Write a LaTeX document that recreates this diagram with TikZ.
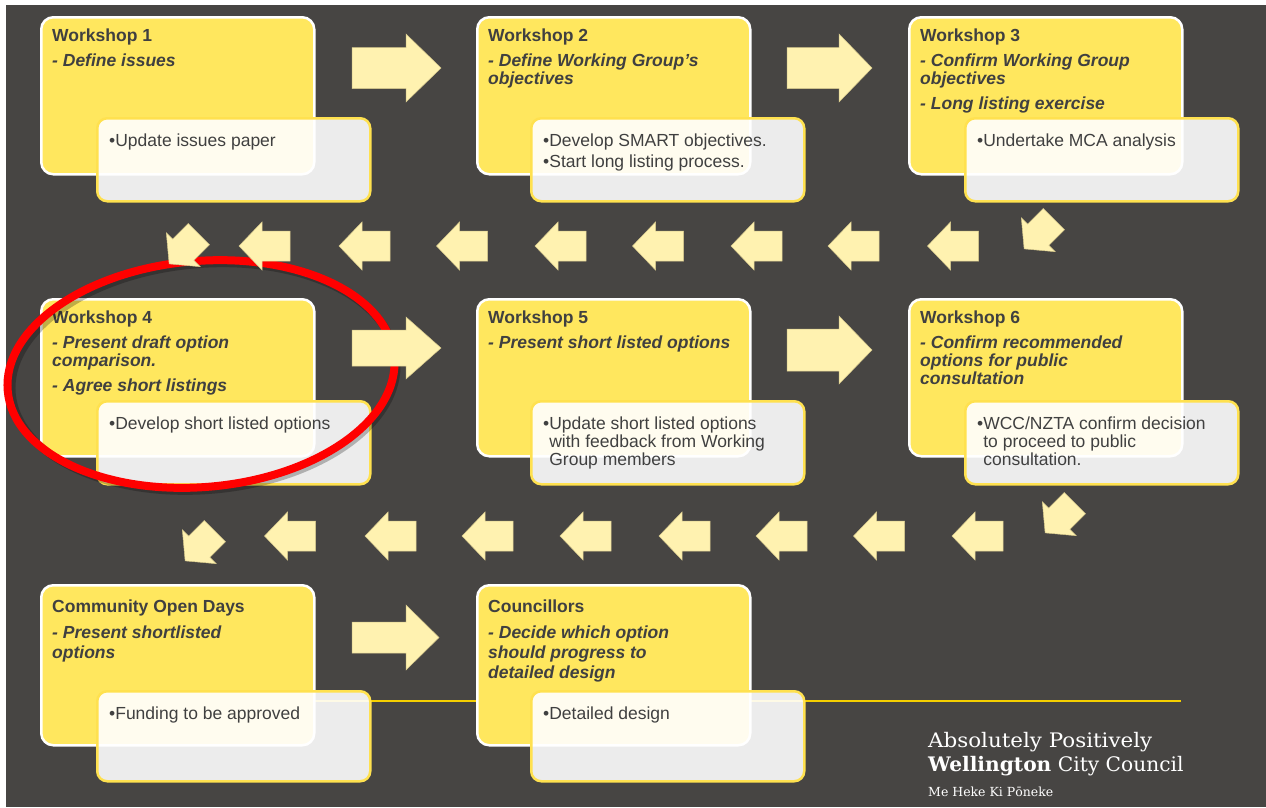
\documentclass[tikz,border=0pt]{standalone}
\usepackage{fontspec}
\setmainfont{Liberation Sans}
\newfontfamily\logofont{DejaVu Serif}
\definecolor{bggray}{HTML}{474543}
\definecolor{boxyellow}{HTML}{FFE75E}
\definecolor{bulborder}{HTML}{FFE14F}
\definecolor{txtgray}{HTML}{404040}
\definecolor{arrfill}{HTML}{FFF2B0}
\definecolor{arredge}{HTML}{D6C88C}
\definecolor{goldline}{HTML}{F5CF00}
\newcommand\drawblockarrow[7]{%
  \filldraw[blockarrow, shift={(#1,#2)}, rotate=#3]
    ({-#4/2},{-#7}) -- ({#4/2-#5},{-#7}) -- ({#4/2-#5},{-#6}) -- ({#4/2},0)
    -- ({#4/2-#5},{#6}) -- ({#4/2-#5},{#7}) -- ({-#4/2},{#7}) -- cycle;}
\tikzset{
  ybox/.style={rectangle, rounded corners=12pt, fill=boxyellow, draw=white, line width=2.5pt,
    minimum width=273pt, minimum height=157pt, anchor=north west, inner sep=0pt},
  bbox/.style={rectangle, rounded corners=10pt, fill=white, fill opacity=0.9, draw=bulborder,
    line width=2.5pt, minimum width=273pt, minimum height=83pt, anchor=north west, inner sep=0pt},
  ttl/.style={anchor=base west, inner sep=0pt, align=left, text=txtgray,
    font=\fontsize{17.5}{18}\selectfont\bfseries},
  sub/.style={anchor=base west, inner sep=0pt, align=left, text=txtgray,
    font=\fontsize{17.5}{18}\selectfont\bfseries\itshape},
  bul/.style={anchor=base west, inner sep=0pt, align=left, text=txtgray,
    font=\fontsize{17.5}{18}\selectfont},
  blockarrow/.style={fill=arrfill, draw=arredge, line width=0.5pt},
  logo/.style={anchor=base west, inner sep=0pt, text=white},
}
\begin{document}
\begin{tikzpicture}[x=1pt,y=-1pt]
\useasboundingbox (0,0) rectangle (1266,807);
\fill[white] (0,0) rectangle (1266,807);
\fill[bggray] (6,5) rectangle (1266,807);
% gold line
\draw[goldline, line width=2.5pt] (314,701) -- (1181,701);
% yellow boxes
\node[ybox] (w1) at (40,16) {};
\node[ybox] (w2) at (476,16) {};
\node[ybox] (w3) at (908,16) {};
\node[ybox] (w4) at (40,298) {};
\node[ybox] (w5) at (476,298) {};
\node[ybox] (w6) at (908,298) {};
\node[ybox, minimum height=160pt] (w7) at (40,584) {};
\node[ybox, minimum height=160pt] (w8) at (476,584) {};
% bullet boxes
\node[bbox] (b1) at (96,117) {};
\node[bbox] (b2) at (530,117) {};
\node[bbox] (b3) at (964,117) {};
\node[bbox] (b4) at (96,400) {};
\node[bbox] (b5) at (530,400) {};
\node[bbox] (b6) at (964,400) {};
\node[bbox, minimum height=90pt] (b7) at (96,690) {};
\node[bbox, minimum height=90pt] (b8) at (530,690) {};
% titles
\node[ttl] (t1) at (52,41) {Workshop 1};
\node[ttl] (t2) at (488,41) {Workshop 2};
\node[ttl] (t3) at (920,41) {Workshop 3};
\node[ttl] (t4) at (52,323) {Workshop 4};
\node[ttl] (t5) at (488,323) {Workshop 5};
\node[ttl] (t6) at (920,323) {Workshop 6};
\node[ttl] (t7) at (52,612) {Community Open Days};
\node[ttl] (t8) at (488,612) {Councillors};
% subtitles (multi-line nodes are placed at the baseline of their last line)
\node[sub] (s1) at (52,66) {- Define issues};
\node[sub] (s2) at (488,84) {- Define Working Group’s\\objectives};
\node[sub] (s3) at (920,109) {- Confirm Working Group\\objectives\\[7pt]- Long listing exercise};
\node[sub] (s4) at (52,391) {- Present draft option\\comparison.\\[7pt]- Agree short listings};
\node[sub] (s5) at (488,348) {- Present short listed options};
\node[sub] (s6) at (920,384) {- Confirm recommended\\options for public\\consultation};
\node[sub] (s7) at (52,658) {- Present shortlisted\\[2pt]options};
\node[sub] (s8) at (488,678) {- Decide which option\\[2pt]should progress to\\[2pt]detailed design};
% bullets
\node[bul] (u1) at (109,146) {•Update issues paper};
\node[bul] (u2) at (543,167) {•Develop SMART objectives.\\[3pt]•Start long listing process.};
\node[bul] (u3) at (977,146) {•Undertake MCA analysis};
\node[bul] (u4) at (109,429) {•Develop short listed options};
\node[bul] (u5) at (543,465) {•Update short listed options\\\hphantom{•}with feedback from Working\\\hphantom{•}Group members};
\node[bul] (u6) at (977,465) {•WCC/NZTA confirm decision\\\hphantom{•}to proceed to public\\\hphantom{•}consultation.};
\node[bul] (u7) at (109,719) {•Funding to be approved};
\node[bul] (u8) at (543,719) {•Detailed design};
% logo
\node[logo, font=\logofont\fontsize{20}{21}\selectfont] (l1) at (928,747) {\scalebox{1.07}[1]{Absolutely Positively}};
\node[logo, font=\logofont\fontsize{20}{21}\selectfont] (l2) at (928,771) {\scalebox{1.01}[1]{\textbf{Wellington} City Council}};
\node[logo, font=\logofont\fontsize{12.5}{14}\selectfont] (l3) at (928,796) {Me Heke Ki Pōneke};
% red ellipse
\draw[black, opacity=0.25, line width=8pt, rotate around={5:(204,377)}] (204,377) ellipse [x radius=193, y radius=113];
\draw[red, line width=8pt, rotate around={5:(201,374)}] (201,374) ellipse [x radius=194, y radius=113];
% right block arrows
\drawblockarrow{396.5}{68}{0}{89}{35}{34}{20.5}
\drawblockarrow{829.5}{68}{0}{85}{33}{34}{20.5}
\drawblockarrow{396.5}{348}{0}{89}{35}{31}{18}
\drawblockarrow{829.5}{350}{0}{85}{33}{34}{21}
\drawblockarrow{395.5}{637.5}{0}{87}{33}{32.5}{15.5}
% left arrow rows
\foreach \cx in {264.5,364.5,462,560.5,658,756.5,853.5,953}
  {\drawblockarrow{\cx}{246}{180}{51}{23}{24}{15}}
\foreach \cx in {290,390.5,487.5,585.5,684.5,781.5,879,977.5}
  {\drawblockarrow{\cx}{536}{180}{51}{23}{24}{15}}
% diagonal arrows
\drawblockarrow{1039}{234}{225}{42}{20}{24}{15}
\drawblockarrow{184}{249}{225}{42}{20}{24}{15}
\drawblockarrow{1060}{518}{225}{42}{20}{24}{15}
\drawblockarrow{200}{546}{225}{42}{20}{24}{15}
\end{tikzpicture}
\end{document}
